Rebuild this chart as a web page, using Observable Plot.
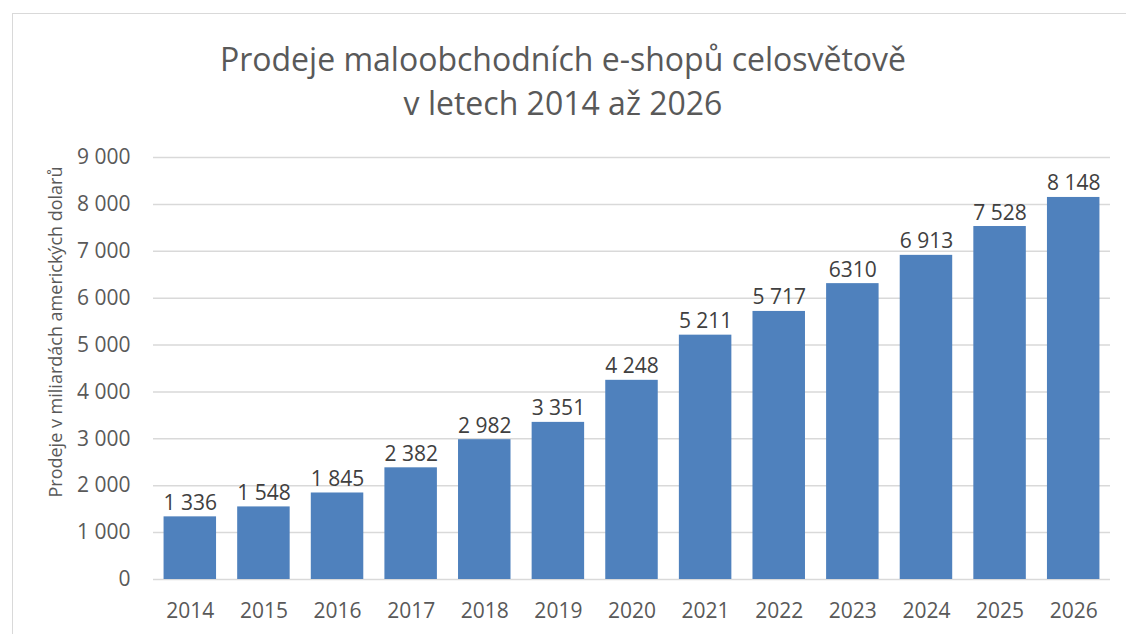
<!DOCTYPE html>
<html><head><meta charset="utf-8">
<script src="https://cdn.jsdelivr.net/npm/d3@7"></script>
<script src="https://cdn.jsdelivr.net/npm/@observablehq/plot@0.6"></script>
<style>
html,body{margin:0;padding:0;background:#fff;overflow:hidden;width:1126px;height:634px;}
#frame{position:absolute;left:12px;top:13px;width:1200px;height:700px;border:1.5px solid #d9d9d9;box-sizing:border-box;}
#title{position:absolute;left:0;top:0;width:1126px;text-align:center;font-family:"Open Sans",sans-serif;font-size:32px;color:#595959;line-height:44px;padding-top:37px;}
#chart{position:absolute;left:0;top:140px;}
</style></head>
<body>
<div id="frame"></div>
<div id="title">Prodeje maloobchodních e-shopů celosvětově<br>v letech 2014 až 2026</div>
<div id="chart"></div>
<script>
const years = ["2014","2015","2016","2017","2018","2019","2020","2021","2022","2023","2024","2025","2026"];
const sales = [1336,1548,1845,2382,2982,3351,4248,5211,5717,6310,6913,7528,8148];
const valueLabels = ["1 336","1 548","1 845","2 382","2 982","3 351","4 248","5 211","5 717","6310","6 913","7 528","8 148"];
const yTicks = [0,1000,2000,3000,4000,5000,6000,7000,8000,9000];
const yTitle = "Prodeje v miliardách amerických dolarů";

const data = years.map((y,i)=>({year:y, value:sales[i], label:valueLabels[i]}));
const fmt = v => d3.format(",")(v).replace(/,/g," ");

const chart = Plot.plot({
  width:1126, height:494,
  marginLeft:153, marginRight:16, marginTop:17, marginBottom:55,
  style:{fontFamily:"'Open Sans', sans-serif", fontSize:"21px", color:"#595959", background:"transparent"},
  x:{domain:years, paddingInner:0.287, paddingOuter:0.1435, round:false, label:null, tickSize:0, tickPadding:24},
  y:{domain:[0,9000], ticks:yTicks, tickFormat:fmt, tickSize:0, tickPadding:23, label:null},
  marks:[
    Plot.gridY(yTicks,{stroke:"#d9d9d9", strokeOpacity:1, strokeWidth:1.5}),
    Plot.barY(data,{x:"year", y:"value", fill:"#4f81bd"}),
    Plot.text(data,{x:"year", y:"value", text:"label", lineAnchor:"bottom", dy:-7, fontSize:21, fill:"#404040"})
  ]
});
d3.select(chart).append("text")
  .attr("transform","translate(57,192) rotate(-90)")
  .attr("text-anchor","middle")
  .attr("dominant-baseline","middle")
  .attr("fill","#595959")
  .style("font-family","'Open Sans', sans-serif")
  .style("font-size","18px")
  .text(yTitle);
document.getElementById("chart").appendChild(chart);
</script>
</body></html>
